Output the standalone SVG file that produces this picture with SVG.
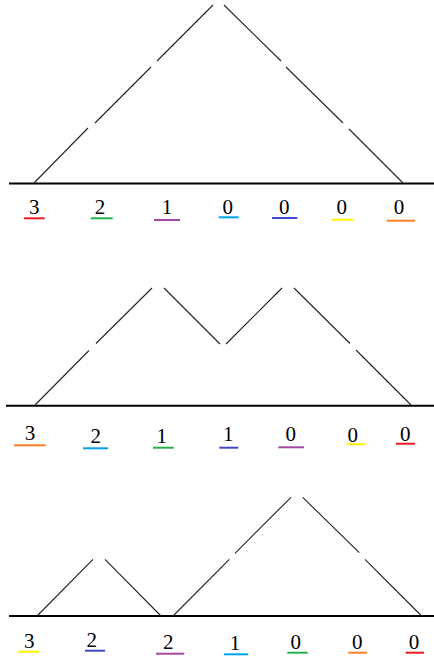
<svg xmlns="http://www.w3.org/2000/svg" width="434" height="657" viewBox="0 0 434 657">
<style>
.base{stroke:#000;stroke-width:2;fill:none}
.seg{stroke:#222;stroke-width:1.1;fill:none}
.lbl{font-family:"Liberation Serif","DejaVu Serif",serif;font-size:21px;fill:#000;text-anchor:middle}
.u{stroke-width:2;fill:none}
.red{stroke:#ED1C24}.green{stroke:#22B14C}.purple{stroke:#A349A4}.lblue{stroke:#00A2E8}.blue{stroke:#3F48CC}.yellow{stroke:#FFF200}.orange{stroke:#FF7F27}
</style>
<rect width="434" height="657" fill="#fff"/>
<g id="panel1">
  <line class="base" x1="9" y1="183.5" x2="434" y2="183.5"/>
  <g id="connectors1">
    <line class="seg" x1="34" y1="183" x2="88" y2="128"/>
    <line class="seg" x1="95" y1="123" x2="151" y2="67"/>
    <line class="seg" x1="157" y1="61" x2="213" y2="5"/>
    <line class="seg" x1="224" y1="5" x2="281" y2="61"/>
    <line class="seg" x1="286" y1="67" x2="343" y2="123"/>
    <line class="seg" x1="349" y1="129" x2="403" y2="183"/>
  </g>
  <g id="labels1">
    <text class="lbl" x="34.3" y="214.3">3</text><line class="u red" x1="24" y1="218.3" x2="44.7" y2="218.3"/>
    <text class="lbl" x="100" y="214.3">2</text><line class="u green" x1="90.7" y1="218.3" x2="112.7" y2="218.3"/>
    <text class="lbl" x="167" y="214.3">1</text><line class="u purple" x1="154" y1="220" x2="180" y2="220"/>
    <text class="lbl" x="227.7" y="214.3">0</text><line class="u lblue" x1="218.7" y1="217.3" x2="238.7" y2="217.3"/>
    <text class="lbl" x="284.3" y="214.3">0</text><line class="u blue" x1="272" y1="218" x2="297.3" y2="218"/>
    <text class="lbl" x="341.7" y="214.3">0</text><line class="u yellow" x1="331.7" y1="219.7" x2="353.7" y2="219.7"/>
    <text class="lbl" x="399" y="214.3">0</text><line class="u orange" x1="386.7" y1="220.7" x2="415" y2="220.7"/>
  </g>
</g>
<g id="panel2">
  <line class="base" x1="6" y1="405.7" x2="434" y2="405.7"/>
  <g id="connectors2">
    <line class="seg" x1="35" y1="405" x2="89" y2="350.5"/>
    <line class="seg" x1="96" y1="343.5" x2="152" y2="288"/>
    <line class="seg" x1="164" y1="288" x2="220" y2="344"/>
    <line class="seg" x1="226" y1="344" x2="282" y2="288"/>
    <line class="seg" x1="294" y1="288" x2="350" y2="343.5"/>
    <line class="seg" x1="356" y1="350" x2="411" y2="405"/>
  </g>
  <g id="labels2">
    <text class="lbl" x="30" y="440">3</text><line class="u orange" x1="14" y1="445.3" x2="45.7" y2="445.3"/>
    <text class="lbl" x="95.7" y="442.7">2</text><line class="u lblue" x1="83" y1="448.3" x2="108" y2="448.3"/>
    <text class="lbl" x="161.7" y="442.7">1</text><line class="u green" x1="153" y1="447.7" x2="173.7" y2="447.7"/>
    <text class="lbl" x="228.3" y="440.7">1</text><line class="u blue" x1="219.3" y1="447.7" x2="238.3" y2="447.7"/>
    <text class="lbl" x="290.7" y="440.7">0</text><line class="u purple" x1="278.3" y1="447.3" x2="304" y2="447.3"/>
    <text class="lbl" x="352.7" y="441.5">0</text><line class="u yellow" x1="346.7" y1="444.3" x2="365.7" y2="444.3"/>
    <text class="lbl" x="405.3" y="440.7">0</text><line class="u red" x1="396" y1="443.7" x2="415" y2="443.7"/>
  </g>
</g>
<g id="panel3">
  <line class="base" x1="9" y1="616" x2="434" y2="616"/>
  <g id="connectors3">
    <line class="seg" x1="37" y1="616" x2="93" y2="559.3"/>
    <line class="seg" x1="105" y1="559.3" x2="161" y2="616"/>
    <line class="seg" x1="173" y1="616" x2="229.3" y2="559.3"/>
    <line class="seg" x1="235" y1="553.3" x2="291" y2="497.3"/>
    <line class="seg" x1="302.7" y1="497.3" x2="359.3" y2="552.7"/>
    <line class="seg" x1="365" y1="559.3" x2="421.7" y2="616"/>
  </g>
  <g id="labels3">
    <text class="lbl" x="29.3" y="647.7">3</text><line class="u yellow" x1="18.3" y1="651.7" x2="39" y2="651.7"/>
    <text class="lbl" x="91.7" y="647">2</text><line class="u blue" x1="85" y1="650.7" x2="105" y2="650.7"/>
    <text class="lbl" x="168.3" y="649">2</text><line class="u purple" x1="156" y1="653.7" x2="184.3" y2="653.7"/>
    <text class="lbl" x="235" y="649.7">1</text><line class="u lblue" x1="224" y1="654.3" x2="248.3" y2="654.3"/>
    <text class="lbl" x="295.7" y="648.7">0</text><line class="u green" x1="287.3" y1="652.7" x2="307.7" y2="652.7"/>
    <text class="lbl" x="357.3" y="648.7">0</text><line class="u orange" x1="348.3" y1="652.7" x2="367" y2="652.7"/>
    <text class="lbl" x="414" y="648.7">0</text><line class="u red" x1="405.7" y1="652.7" x2="424" y2="652.7"/>
  </g>
</g>
</svg>
